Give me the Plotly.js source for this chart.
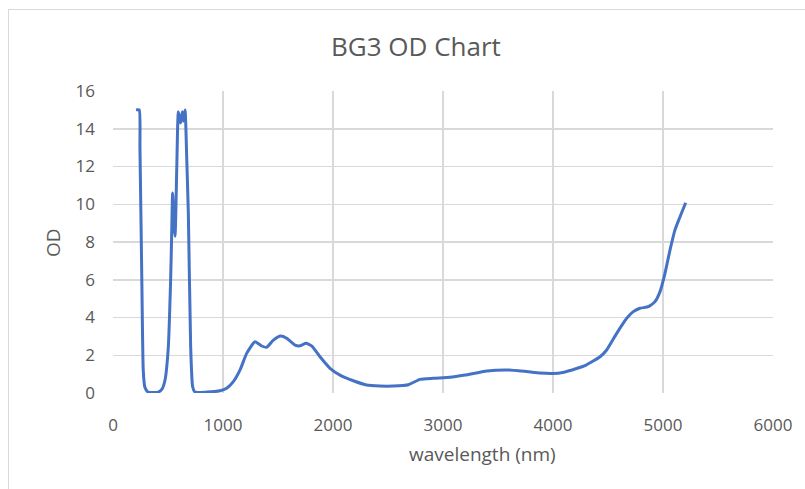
<!DOCTYPE html>
<html>
<head>
<meta charset="utf-8">
<script src="https://cdn.plot.ly/plotly-3.0.1.min.js"></script>
<style>
html,body{margin:0;padding:0;background:#fff;overflow:hidden;}
#frame{position:absolute;left:8px;top:9px;width:900px;height:600px;border-left:1.5px solid #d9d9d9;border-top:1.5px solid #d9d9d9;box-sizing:border-box;pointer-events:none;}
#chart{position:absolute;left:0;top:0;width:805px;height:489px;}
</style>
</head>
<body>
<div id="chart"></div>
<div id="frame"></div>
<script>
const wavelength = [209, 238, 245, 262, 275, 290, 318, 412, 445, 473, 503, 524, 533, 542, 553, 564, 580, 594, 614, 630, 639, 655, 670, 685, 706, 724, 745, 850, 973, 1033, 1094, 1155, 1215, 1291, 1352, 1397, 1458, 1524, 1579, 1655, 1700, 1755, 1806, 1882, 1973, 2064, 2185, 2306, 2427, 2548, 2685, 2791, 2912, 3064, 3200, 3400, 3600, 3800, 4000, 4100, 4200, 4300, 4427, 4488, 4579, 4670, 4730, 4791, 4867, 4927, 4973, 5018, 5064, 5109, 5155, 5206];
const od = [15, 15, 13, 6, 1.2, 0.3, 0.05, 0.05, 0.2, 0.69, 2.45, 6, 8.3, 10.6, 9.0, 8.3, 12, 14.9, 14.3, 14.9, 14.4, 15, 12.5, 9.5, 2.45, 0.33, 0.05, 0.05, 0.12, 0.25, 0.6, 1.22, 2.1, 2.72, 2.49, 2.42, 2.8, 3.02, 2.9, 2.54, 2.5, 2.63, 2.5, 1.92, 1.31, 0.95, 0.65, 0.42, 0.37, 0.37, 0.44, 0.72, 0.78, 0.83, 0.95, 1.17, 1.22, 1.11, 1.03, 1.1, 1.27, 1.48, 1.92, 2.28, 3.16, 3.96, 4.31, 4.49, 4.57, 4.84, 5.37, 6.34, 7.58, 8.64, 9.34, 10.08];
const xTicks = [0, 1000, 2000, 3000, 4000, 5000, 6000];
const yTicks = [0, 2, 4, 6, 8, 10, 12, 14, 16];

const font = 'Open Sans, Lato, sans-serif';
const grey = '#595959';

Plotly.newPlot('chart', [{
  x: wavelength, y: od, type: 'scatter', mode: 'lines',
  line: {color: '#4472C4', width: 3, shape: 'spline', smoothing: 0.5},
  hoverinfo: 'skip'
}], {
  width: 805, height: 489,
  margin: {l: 113, r: 32, t: 91, b: 96},
  paper_bgcolor: '#fff', plot_bgcolor: '#fff',
  showlegend: false,
  xaxis: {range: [0, 6000], tickvals: xTicks, ticktext: xTicks.map(String), showgrid: true, gridcolor: '#d9d9d9', gridwidth: 1.5,
    zeroline: false, showline: false, ticks: '', ticklabelstandoff: 20, tickfont: {family: font, size: 17, color: grey}, fixedrange: true},
  yaxis: {range: [0, 16], tickvals: yTicks, ticktext: yTicks.map(String), showgrid: true, gridcolor: '#d9d9d9', gridwidth: 1.5,
    zeroline: false, showline: false, ticks: '', ticklabelstandoff: 17, tickfont: {family: font, size: 17, color: grey}, fixedrange: true},
  annotations: [
    {text: 'BG3 OD Chart', xref: 'paper', yref: 'paper', x: (415.5-113)/660, y: (393-45.5)/302, xanchor: 'center', yanchor: 'middle', showarrow: false, font: {family: font, size: 26, color: grey}},
    {text: 'wavelength (nm)', xref: 'paper', yref: 'paper', x: (483-113)/660, y: (393-454)/302, xanchor: 'center', yanchor: 'middle', showarrow: false, font: {family: font, size: 19, color: grey}},
    {text: 'OD', xref: 'paper', yref: 'paper', x: (53-113)/660, y: (393-243)/302, xanchor: 'center', yanchor: 'middle', textangle: -90, showarrow: false, font: {family: font, size: 19, color: grey}}
  ]
}, {staticPlot: true});
</script>
</body>
</html>
